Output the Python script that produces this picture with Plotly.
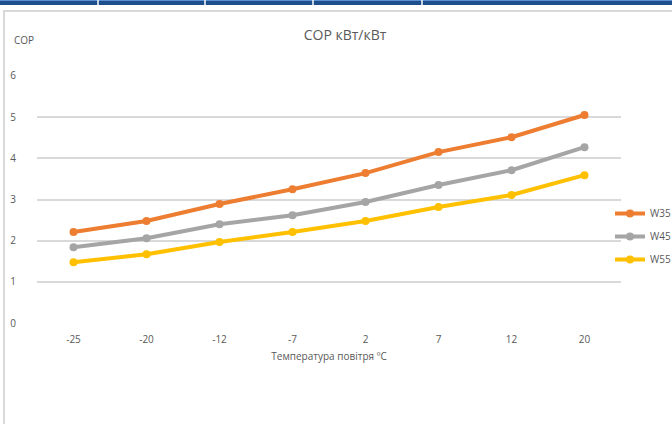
import plotly.graph_objects as go

categories = ["-25", "-20", "-12", "-7", "2", "7", "12", "20"]
w35 = [2.21, 2.48, 2.89, 3.25, 3.64, 4.15, 4.51, 5.05]
w45 = [1.84, 2.06, 2.40, 2.62, 2.94, 3.35, 3.71, 4.27]
w55 = [1.48, 1.67, 1.97, 2.21, 2.48, 2.82, 3.11, 3.59]
series_names = ["W35", "W45", "W55"]
colors = ["#ED7D31", "#A5A5A5", "#FFC000"]
y_ticks = [0, 1, 2, 3, 4, 5, 6]

W, H = 672, 424
fig = go.Figure()
for name, vals, col in zip(series_names, [w35, w45, w55], colors):
    fig.add_trace(go.Scatter(
        x=categories, y=vals, name=name, mode="lines+markers", legendgroup=name,
        line=dict(color=col, width=4),
        marker=dict(color=col, size=8),
    ))

font = "Open Sans"
fig.update_layout(
    width=W, height=H,
    margin=dict(l=0, r=0, t=0, b=0, autoexpand=False),
    paper_bgcolor="white", plot_bgcolor="white",
    font=dict(family=font, size=10, color="#595959"),
    title=dict(text="COP кВт/кВт", x=345 / W, xanchor="center", y=1 - 35 / H, yanchor="middle",
               font=dict(size=14, color="#595959", family=font)),
    xaxis=dict(domain=[37 / W, 621 / W], type="category", range=[-0.5, 7.5],
               showgrid=False, zeroline=False, showline=False, ticks="", automargin=False,
               ticklabelstandoff=8, tickfont=dict(size=10, color="#595959"),
               title=dict(text="Температура повітря ºС", standoff=7,
                          font=dict(size=10, color="#595959"))),
    yaxis=dict(domain=[1 - 324 / H, 1 - 75 / H], range=[-0.02, 6.02], tickvals=y_ticks,
               showgrid=True, gridcolor="#D9D9D9", gridwidth=1.5, zeroline=False,
               showline=False, ticks="", ticklabelstandoff=20, automargin=False,
               tickfont=dict(size=10, color="#595959")),
    legend=dict(x=610 / W, xanchor="left", y=1 - 199 / H, yanchor="top",
                bgcolor="rgba(0,0,0,0)", font=dict(size=10, color="#595959"),
                itemwidth=30, tracegroupgap=4),
    showlegend=True,
)

fig.add_annotation(text="COP", x=12 / W, y=1 - 40 / H, xref="paper", yref="paper",
                   xanchor="left", yanchor="middle", showarrow=False,
                   font=dict(size=10, color="#595959", family=font))

# chart frame and top band
fig.add_shape(type="rect", xref="paper", yref="paper", x0=4 / W, x1=1.05, y0=-0.05, y1=1 - 11 / H,
              line=dict(color="#D9D9D9", width=2), fillcolor="rgba(0,0,0,0)", layer="below")
fig.add_shape(type="rect", xref="paper", yref="paper", x0=0, x1=1, y0=1 - 5 / H, y1=1,
              line=dict(width=0), fillcolor="#1F4E8C")
fig.add_shape(type="rect", xref="paper", yref="paper", x0=0, x1=1, y0=1 - 1 / H, y1=1,
              line=dict(width=0), fillcolor="#5B8FD0")
for xd in [98, 205, 313, 422]:
    fig.add_shape(type="line", xref="paper", yref="paper", x0=xd / W, x1=xd / W, y0=1 - 5 / H, y1=1,
                  line=dict(color="white", width=1.5))

fig.write_html(
    "out.html",
    config={"displayModeBar": False},
    post_script="document.body.style.margin='0';document.body.style.padding='0';"
                "document.body.style.overflow='hidden';",
)
